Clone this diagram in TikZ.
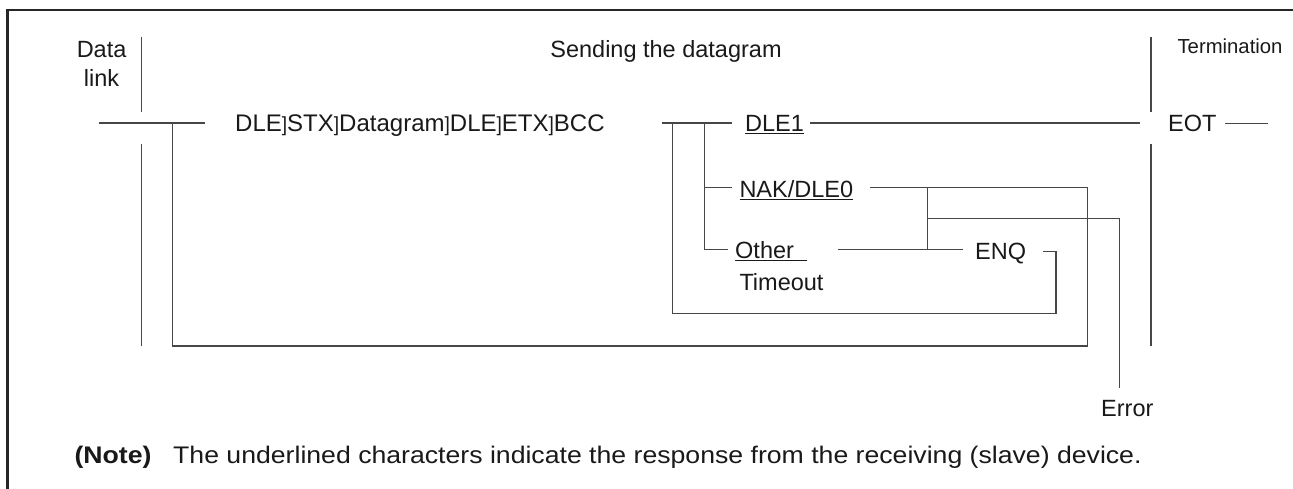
\documentclass[tikz,border=0pt]{standalone}
\usepackage{fontspec}
\setmainfont{Liberation Sans}
\usepackage{graphicx}
\newcommand\sepbr{\scalebox{0.8}[0.85]{]}}
\begin{document}
\begin{tikzpicture}[x=1pt,y=-1pt,
  lbl/.style={inner sep=0pt, font=\fontsize{23.5}{28}\selectfont, text=black!90},
  smalllbl/.style={inner sep=0pt, font=\fontsize{20.3}{24}\selectfont, text=black!90},
  notelbl/.style={inner sep=0pt, font=\fontsize{24}{28}\selectfont, text=black!90},
  wire/.style={draw=black!72, line width=1.3pt},
  frm/.style={draw=black!85, line width=2.6pt}]
\useasboundingbox (0,0) rectangle (1293,489);
% frame (open to the right and bottom)
\draw[frm] (7.5,500) -- (7.5,10) -- (1310,10);

% headings
\node[lbl, anchor=base] (data) at (101.6,57.4) {Data};
\node[lbl, anchor=base] (link) at (101.6,86.4) {link};
\node[lbl, anchor=base] (send) at (666,57.4) {Sending the datagram};
\node[smalllbl, anchor=base] (term) at (1230,54) {Termination};

% row texts
\node[lbl, anchor=base west, font=\fontsize{24}{28}\selectfont] (dgram) at (235,131.4) {DLE\sepbr STX\sepbr Datagram\sepbr DLE\sepbr ETX\sepbr BCC};
\node[lbl, anchor=base west] (dle1) at (745,131.4) {\underline{DLE1}};
\node[lbl, anchor=base west] (eot) at (1168,131.6) {EOT};
\node[lbl, anchor=base west] (nak) at (739.3,197.9) {\underline{NAK/DLE0}};
\node[lbl, anchor=base west] (other) at (735,258.7) {\underline{Other\ \ }};
\node[lbl, anchor=base west] (tmo) at (739.3,290) {Timeout};
\node[lbl, anchor=base west] (enq) at (975,259.5) {ENQ};
\node[lbl, anchor=base west] (err) at (1101,416.5) {Error};
\node[notelbl, anchor=base west] (notehd) at (74.4,463.4) {\scalebox{1.11}[1]{\textbf{(Note)}}};
\node[notelbl, anchor=base west] (notetx) at (173,463.4) {\scalebox{1.11}[1]{The underlined characters indicate the response from the receiving (slave) device.}};

% coordinates
\coordinate (dlT) at (141.8,37);
\coordinate (dlM) at (141.8,112);
\coordinate (dlL) at (141.8,144);
\coordinate (dlB) at (141.8,346);
\coordinate (tmT) at (1151,37);
\coordinate (tmM) at (1151,112);
\coordinate (tmL) at (1151,144);
\coordinate (tmB) at (1151,346);
\coordinate (s0) at (98.7,123);
\coordinate (s1) at (204.8,123);
\coordinate (oA) at (172.5,123);
\coordinate (oB) at (172.5,346);
\coordinate (oC) at (1087.5,346);
\coordinate (oD) at (1087.5,187.3);
\coordinate (nE) at (870,187.3);
\coordinate (r0) at (661.7,123);
\coordinate (r1) at (731.7,123);
\coordinate (iA) at (672.7,123);
\coordinate (iB) at (672.7,313.3);
\coordinate (iC) at (1056,313.3);
\coordinate (iD) at (1056,251.7);
\coordinate (iE) at (1043.3,251.7);
\coordinate (vA) at (704.3,123);
\coordinate (vB) at (704.3,249.3);
\coordinate (vC) at (728.3,249.3);
\coordinate (vN) at (704.3,187.3);
\coordinate (vN2) at (731.7,187.3);
\coordinate (d0) at (810,123);
\coordinate (d1) at (1140,123);
\coordinate (e0) at (1225,123.3);
\coordinate (e1) at (1268,123.3);
\coordinate (jA) at (927.7,187.3);
\coordinate (jB) at (927.7,249.3);
\coordinate (jE) at (927.7,218.3);
\coordinate (o0) at (838.3,249.3);
\coordinate (o1) at (963.3,249.3);
\coordinate (xA) at (1119.5,218.3);
\coordinate (xB) at (1119.5,388);

% lines
\draw[wire] (dlT) -- (dlM);
\draw[wire] (dlL) -- (dlB);
\draw[wire] (tmT) -- (tmM);
\draw[wire] (tmL) -- (tmB);
\draw[wire] (s0) -- (s1);
\draw[wire] (oA) -- (oB) -- (oC) -- (oD) -- (nE);
\draw[wire] (r0) -- (r1);
\draw[wire] (iA) -- (iB) -- (iC) -- (iD) -- (iE);
\draw[wire] (vA) -- (vB) -- (vC);
\draw[wire] (vN) -- (vN2);
\draw[wire] (d0) -- (d1);
\draw[wire] (e0) -- (e1);
\draw[wire] (jA) -- (jB);
\draw[wire] (o0) -- (o1);
\draw[wire] (jE) -- (xA) -- (xB);
\end{tikzpicture}
\end{document}
